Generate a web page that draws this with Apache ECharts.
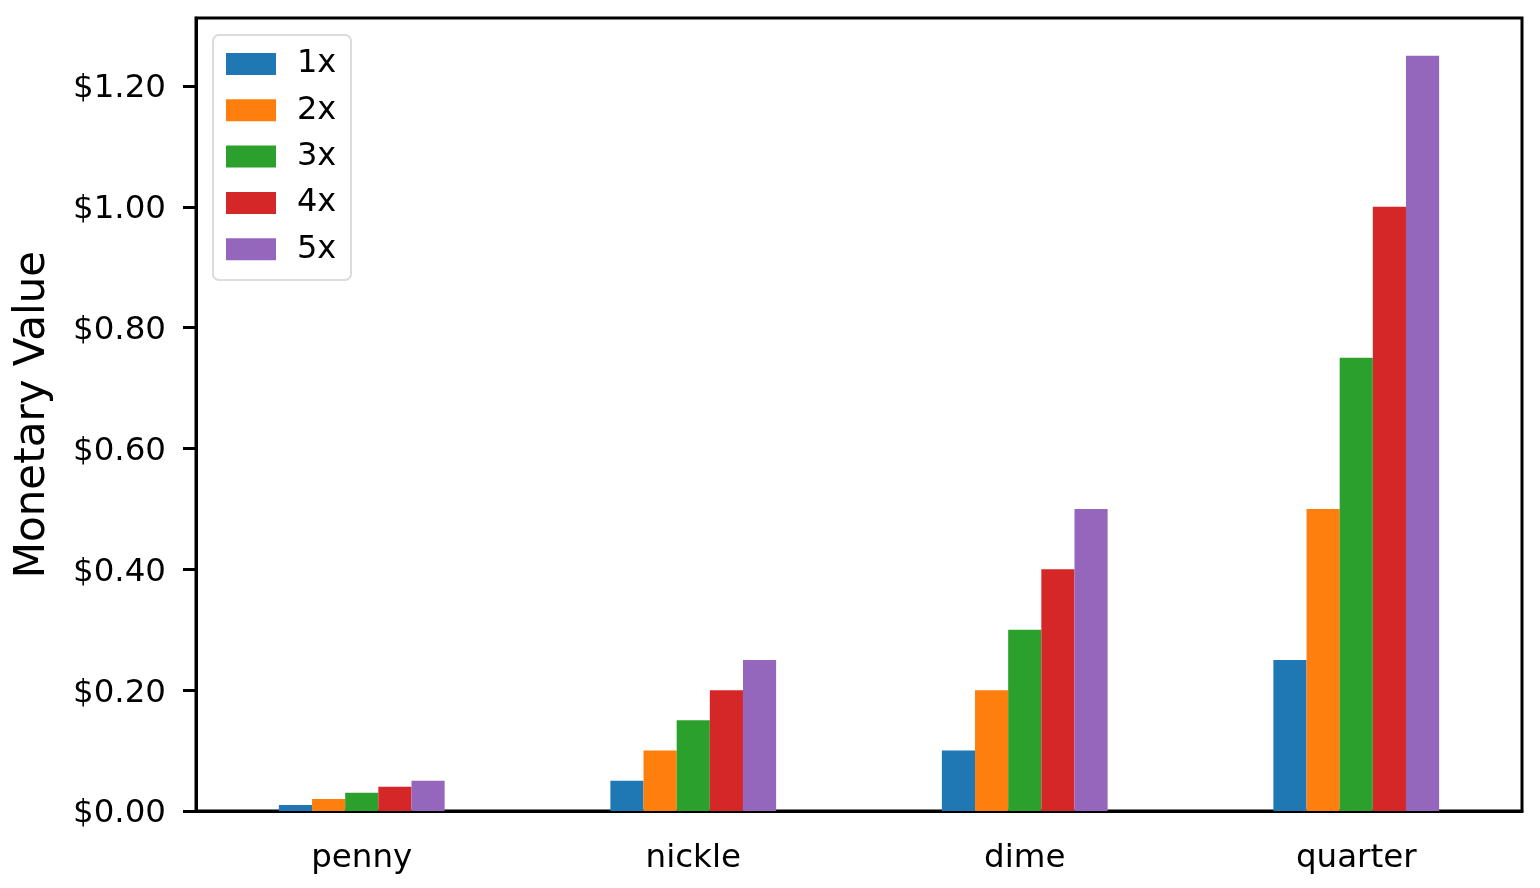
<!DOCTYPE html>
<html>
<head>
<meta charset="utf-8">
<script src="https://cdn.jsdelivr.net/npm/echarts@6/dist/echarts.min.js"></script>
<style>
html,body{margin:0;padding:0;background:#fff;}
#chart{width:1540px;height:888px;}
</style>
</head>
<body>
<div id="chart"></div>
<script>
const categories = ['penny', 'nickle', 'dime', 'quarter'];
const seriesNames = ['1x', '2x', '3x', '4x', '5x'];
const values1x = [0.01, 0.05, 0.10, 0.25];
const values2x = [0.02, 0.10, 0.20, 0.50];
const values3x = [0.03, 0.15, 0.30, 0.75];
const values4x = [0.04, 0.20, 0.40, 1.00];
const values5x = [0.05, 0.25, 0.50, 1.25];
const yTicks = [0, 0.2, 0.4, 0.6, 0.8, 1.0, 1.2];
const colors = ['#1f77b4', '#ff7f0e', '#2ca02c', '#d62728', '#9467bd'];
const allValues = [values1x, values2x, values3x, values4x, values5x];

const FONT = 'DejaVu Sans';
const chart = echarts.init(document.getElementById('chart'), null, {renderer: 'canvas'});

const series = seriesNames.map((name, i) => ({
  name: name,
  type: 'bar',
  data: allValues[i],
  barWidth: '10%',
  barGap: '0%',
  itemStyle: {color: colors[i]},
  emphasis: {disabled: true}
}));

const option = {
  animation: false,
  backgroundColor: '#ffffff',
  textStyle: {fontFamily: FONT},
  grid: {
    left: 196, right: 18, top: 18, bottom: 77,
    show: true, borderColor: '#000', borderWidth: 3, backgroundColor: 'transparent'
  },
  legend: {
    orient: 'vertical',
    left: 226,
    top: 48,
    itemWidth: 50,
    itemHeight: 22,
    itemGap: 14.3,
    padding: 0,
    icon: 'rect',
    data: seriesNames,
    textStyle: {fontFamily: FONT, fontSize: 32, color: '#000', padding: [0, 0, 0, 16]}
  },
  graphic: [{
    type: 'rect',
    shape: {x: 213, y: 35, width: 138, height: 245, r: 6},
    style: {fill: 'rgba(255,255,255,0.8)', stroke: '#dcdcdc', lineWidth: 2},
    z: 0
  }],
  xAxis: {
    type: 'category',
    data: categories,
    axisLine: {lineStyle: {color: '#000', width: 3}},
    axisTick: {alignWithLabel: true, length: 13, lineStyle: {color: '#000', width: 3}},
    axisLabel: {fontFamily: FONT, fontSize: 32.5, color: '#000', margin: 31},
    splitLine: {show: false}
  },
  yAxis: {
    type: 'value',
    min: 0,
    max: 1.3125,
    interval: 0.2,
    name: 'Monetary Value',
    nameLocation: 'middle',
    nameRotate: 90,
    nameGap: 142,
    nameTextStyle: {fontFamily: FONT, fontSize: 42, color: '#000'},
    axisLine: {show: true, lineStyle: {color: '#000', width: 3}},
    axisTick: {show: true, length: 13, customValues: yTicks, lineStyle: {color: '#000', width: 3}},
    axisLabel: {
      fontFamily: FONT, fontSize: 32.5, color: '#000', margin: 30,
      customValues: yTicks,
      formatter: v => '{a|$' + v.toFixed(2) + '}',
      rich: {a: {fontFamily: FONT, fontSize: 32.5, color: '#000', padding: [6, 0, 0, 0]}}
    },
    splitLine: {show: false}
  },
  series: series
};
chart.setOption(option);
</script>
</body>
</html>
